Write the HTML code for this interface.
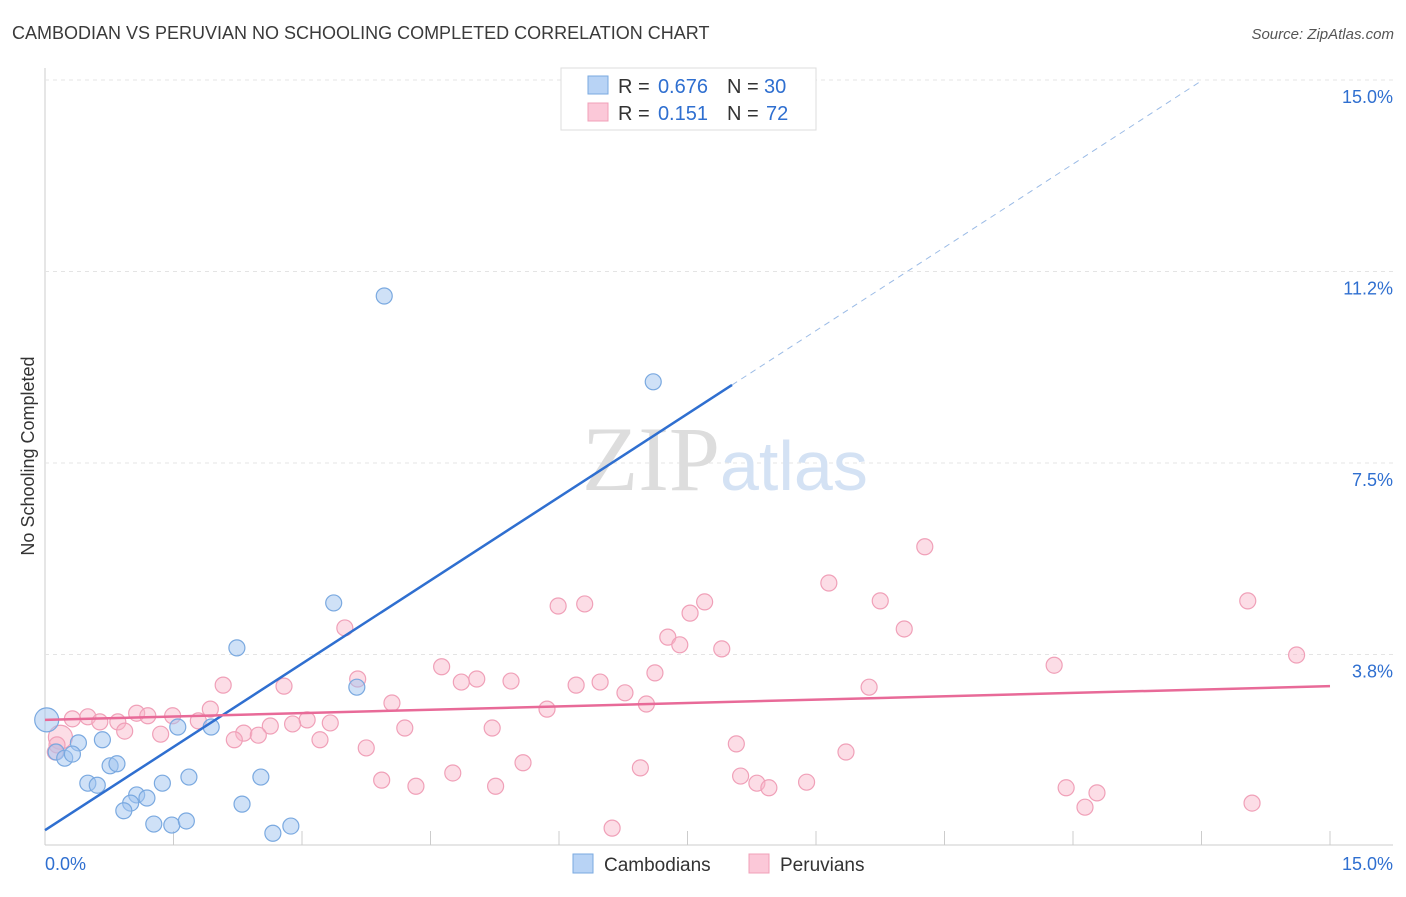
<!DOCTYPE html>
<html><head><meta charset="utf-8"><style>
body{margin:0;background:#fff;font-family:"Liberation Sans",sans-serif}
</style></head><body>
<svg width="1406" height="892" xmlns="http://www.w3.org/2000/svg">
<text x="12" y="39" font-size="18" fill="#3a3a3a">CAMBODIAN VS PERUVIAN NO SCHOOLING COMPLETED CORRELATION CHART</text>
<text x="1394" y="39" font-size="15" fill="#555" font-style="italic" text-anchor="end">Source: ZipAtlas.com</text>
<g id="grid"></g>
<text x="720" y="490" font-size="92" fill="#ddd" font-family="Liberation Serif,serif" text-anchor="end">ZIP</text>
<text x="720" y="490" font-size="70" fill="#d4e2f4">atlas</text>
<text transform="translate(34,456) rotate(-90)" font-size="18" fill="#333" text-anchor="middle">No Schooling Completed</text>
<g id="marks"></g>
<g>
<rect x="561" y="68" width="255" height="62" fill="#fff" stroke="#ddd"/>
<rect x="588" y="76" width="20" height="18" fill="#b8d3f5" stroke="#7aa9e0"/>
<rect x="588" y="103" width="20" height="18" fill="#fbc8d8" stroke="#f0a0b8"/>
<text x="618" y="93" font-size="20" fill="#333">R =</text>
<text x="708" y="93" font-size="20" fill="#2f6fd0" text-anchor="end">0.676</text>
<text x="727" y="93" font-size="20" fill="#333">N =</text>
<text x="764" y="93" font-size="20" fill="#2f6fd0">30</text>
<text x="618" y="120" font-size="20" fill="#333">R =</text>
<text x="708" y="120" font-size="20" fill="#2f6fd0" text-anchor="end">0.151</text>
<text x="727" y="120" font-size="20" fill="#333">N =</text>
<text x="766" y="120" font-size="20" fill="#2f6fd0">72</text>
</g>
<g>
<rect x="573" y="854" width="20" height="19" fill="#b8d3f5" stroke="#7aa9e0"/>
<text x="604" y="871" font-size="19" fill="#333">Cambodians</text>
<rect x="749" y="854" width="20" height="19" fill="#fbc8d8" stroke="#f0a0b8"/>
<text x="780" y="871" font-size="19" fill="#333">Peruvians</text>
</g>
</svg>
<script>
const yTicks=[3.8,7.5,11.2,15.0];
const yTickVals=[3.75,7.5,11.25,15];
const xTickLabels=["0.0%","15.0%"];
const blueX=[3.96,7.10,3.37,2.24,3.64,1.55,1.94,0.02,0.39,0.67,0.13,0.23,0.32,0.76,0.84,0.50,0.61,1.37,1.68,2.52,1.07,1.19,1.00,2.30,0.92,1.27,1.48,1.65,2.66,2.87];
const blueY=[10.77,9.09,4.76,3.88,3.11,2.33,2.33,2.47,2.02,2.08,1.84,1.72,1.80,1.57,1.61,1.23,1.19,1.23,1.35,1.35,1.00,0.94,0.84,0.82,0.69,0.43,0.41,0.49,0.25,0.39];
const pinkX=[10.27,9.15,9.75,5.99,6.30,7.70,7.53,14.04,10.03,3.50,7.27,7.41,7.90,11.78,14.61,4.63,5.04,4.86,5.44,3.65,7.12,6.48,6.20,6.77,9.62,2.79,2.08,4.05,5.86,7.02,1.93,1.07,1.20,1.49,0.50,0.32,0.85,0.64,1.79,3.06,3.33,2.63,2.89,4.20,5.22,0.93,1.35,2.32,2.49,2.21,3.21,0.18,0.14,0.12,8.07,9.35,3.75,5.58,6.95,4.76,3.93,8.12,8.31,8.45,8.89,4.33,5.26,11.92,12.28,12.14,14.09,6.62];
const pinkY=[5.86,5.15,4.80,4.70,4.74,4.78,4.56,4.80,4.25,4.27,4.09,3.94,3.86,3.54,3.74,3.51,3.27,3.21,3.23,3.27,3.39,3.21,3.15,3.00,3.11,3.13,3.15,2.80,2.68,2.78,2.68,2.60,2.55,2.55,2.53,2.49,2.43,2.43,2.45,2.47,2.41,2.35,2.39,2.31,2.31,2.25,2.19,2.21,2.17,2.08,2.08,2.13,1.98,1.84,2.00,1.84,1.92,1.63,1.53,1.43,1.29,1.37,1.23,1.14,1.25,1.17,1.17,1.14,1.04,0.76,0.84,0.35];
const blueFit=[0.31,1.087];
const pinkFit=[2.47,0.044];
const NS="http://www.w3.org/2000/svg";
const X0=45,X1=1330,Y0=846,Y1=80;
const xs=v=>X0+v/15*(X1-X0);
const ys=v=>Y0-v/15*(Y0-Y1);
function mk(t,a,p){const e=document.createElementNS(NS,t);for(const k in a)e.setAttribute(k,a[k]);p.appendChild(e);return e;}
const g=document.getElementById('grid'),m=document.getElementById('marks');
mk('line',{x1:45,y1:68,x2:45,y2:845,stroke:'#ccc'},g);
mk('line',{x1:45,y1:845,x2:1393,y2:845,stroke:'#ccc'},g);
for(let i=0;i<=10;i++){const x=xs(i*1.5);const t=mk('line',{x1:x,y1:831,x2:x,y2:845,stroke:'#ccc'},g);}
yTickVals.forEach((v,i)=>{const y=ys(v);
const l=mk('line',{x1:45,y1:y,x2:1393,y2:y,stroke:'#e4e4e4','stroke-dasharray':'4,4'},g);

const t=mk('text',{x:1393,y:y+23,'font-size':18,fill:'#2f6fd0','text-anchor':'end'},g);t.textContent=yTicks[i].toFixed(1)+'%';
});
const tx0=mk('text',{x:45,y:870,'font-size':18,fill:'#2f6fd0'},g);tx0.textContent=xTickLabels[0];

const tx1=mk('text',{x:1393,y:870,'font-size':18,fill:'#2f6fd0','text-anchor':'end'},g);tx1.textContent=xTickLabels[1];

pinkX.forEach((x,i)=>{const c=mk('circle',{cx:xs(x),cy:ys(pinkY[i]),r:i==51?12:8,fill:'rgba(248,180,200,0.45)',stroke:'#f0a0b8','stroke-width':1.2},m);
});
blueX.forEach((x,i)=>{const c=mk('circle',{cx:xs(x),cy:ys(blueY[i]),r:i==7?12:8,fill:'rgba(160,196,240,0.5)',stroke:'#7aa9e0','stroke-width':1.2},m);
});
const bxEnd=8.02,bxMax=(15-blueFit[0])/blueFit[1];
const bl=mk('line',{x1:xs(0),y1:ys(blueFit[0]),x2:xs(bxEnd),y2:ys(blueFit[0]+blueFit[1]*bxEnd),stroke:'#2f6fd0','stroke-width':2.5},m);

const bd=mk('line',{x1:xs(bxEnd),y1:ys(blueFit[0]+blueFit[1]*bxEnd),x2:xs(bxMax),y2:ys(15),stroke:'#9bbbe6','stroke-width':1,'stroke-dasharray':'6,5'},m);

const pl=mk('line',{x1:xs(0),y1:ys(pinkFit[0]),x2:xs(15),y2:ys(pinkFit[0]+pinkFit[1]*15),stroke:'#e86a98','stroke-width':2.5},m);

</script>
</body></html>
